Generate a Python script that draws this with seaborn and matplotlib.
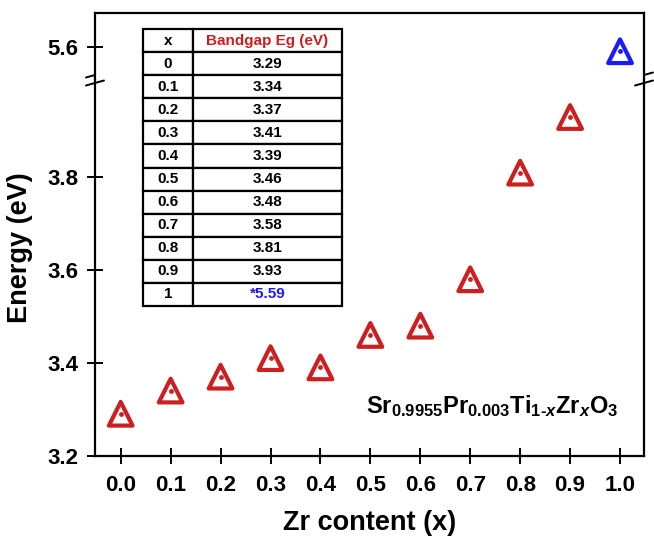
import numpy as np
import pandas as pd
import matplotlib
matplotlib.use("Agg")
import matplotlib.pyplot as plt
import seaborn as sns

zr_content = [0.0, 0.1, 0.2, 0.3, 0.4, 0.5, 0.6, 0.7, 0.8, 0.9, 1.0]
bandgap = [3.29, 3.34, 3.37, 3.41, 3.39, 3.46, 3.48, 3.58, 3.81, 3.93, 5.59]
table_x = ["0", "0.1", "0.2", "0.3", "0.4", "0.5", "0.6", "0.7", "0.8", "0.9", "1"]
table_eg = ["3.29", "3.34", "3.37", "3.41", "3.39", "3.46", "3.48", "3.58", "3.81", "3.93", "*5.59"]
x_ticks = [0.0, 0.1, 0.2, 0.3, 0.4, 0.5, 0.6, 0.7, 0.8, 0.9, 1.0]
y_ticks_low = [3.2, 3.4, 3.6, 3.8]
y_ticks_high = [5.6]

RED = "#cc1f1f"
BLUE = "#1a1aff"

sns.set_theme(style="ticks")
plt.rcParams["font.family"] = ["Liberation Sans", "DejaVu Sans"]
plt.rcParams["font.weight"] = "bold"
plt.rcParams["text.color"] = "black"
plt.rcParams["axes.labelcolor"] = "black"
plt.rcParams["mathtext.fontset"] = "custom"
plt.rcParams["mathtext.rm"] = "Liberation Sans"
plt.rcParams["mathtext.bf"] = "Liberation Sans:bold"
plt.rcParams["mathtext.it"] = "Liberation Sans:italic"
plt.rcParams["mathtext.bfit"] = "Liberation Sans:italic:bold"

df = pd.DataFrame({"x": zr_content, "eg": bandgap})
low = df[df["eg"] < 5]
high = df[df["eg"] >= 5]

fig = plt.figure(figsize=(6.54, 5.36), dpi=100)
W, H = 654, 536
left, right = 95, 644
y_axis, y_break, y_top = 455.5, 79, 13.3
ax_lo = fig.add_axes([left / W, 1 - y_axis / H, (right - left) / W, (y_axis - y_break) / H])
ax_hi = fig.add_axes([left / W, 1 - y_break / H, (right - left) / W, (y_break - y_top) / H])

# hollow triangles with a small dot inside
for ax, part, col in [(ax_lo, low, RED), (ax_hi, high, BLUE)]:
    sns.scatterplot(data=part, x="x", y="eg", ax=ax, marker="^", s=290,
                    facecolors="none", edgecolor=col, linewidth=3.0, zorder=3)
    sns.scatterplot(data=part, x="x", y="eg", ax=ax, marker="o", s=12,
                    color=col, linewidth=0, zorder=3)

ax_lo.set_xlim(-0.0515, 1.048)
ax_hi.set_xlim(-0.0515, 1.048)
ax_lo.set_ylim(3.2, 4.012)
ax_hi.set_ylim(5.530, 5.672)

for ax in (ax_lo, ax_hi):
    for s in ax.spines.values():
        s.set_linewidth(1.6)
        s.set_color("black")
    ax.tick_params(axis="both", direction="inout", length=12, width=1.4,
                   labelsize=16, colors="black", pad=6)
    ax.set_xlabel("")
    ax.set_ylabel("")

ax_lo.spines["top"].set_visible(False)
ax_hi.spines["bottom"].set_visible(False)
ax_hi.tick_params(axis="x", bottom=False, labelbottom=False)
ax_lo.set_xticks(x_ticks)
ax_lo.set_xticklabels([f"{v:.1f}" for v in x_ticks])
ax_lo.set_yticks(y_ticks_low)
ax_lo.set_yticklabels([f"{v:.1f}" for v in y_ticks_low])
ax_hi.set_yticks(y_ticks_high)
ax_hi.set_yticklabels([f"{v:.1f}" for v in y_ticks_high])
ax_lo.tick_params(axis="x", pad=8)

ax_lo.set_xlabel("Zr content (x)", fontsize=19.5, fontweight="bold", labelpad=10)
ax_lo.set_ylabel("Energy (eV)", fontsize=19.5, fontweight="bold")
ax_lo.yaxis.set_label_coords(-0.113, (y_axis - 248) / (y_axis - y_break))

# axis break marks (//) on both sides
ah = y_axis - y_break
aw = right - left
for xa in (0, 1):
    for dy in (-4, 4):
        ax_lo.plot([xa - 9 / aw, xa + 9 / aw],
                   [1 + (dy - 2.5) / ah, 1 + (dy + 2.5) / ah],
                   transform=ax_lo.transAxes, color="black", lw=1.4,
                   clip_on=False, zorder=5)

# composition label
ax_lo.text(0.9526, 0.113,
           r"$\mathbf{Sr_{0.9955}Pr_{0.003}Ti_{1\text{-}\mathbfit{x}}Zr_{\mathbfit{x}}O_{3}}$",
           transform=ax_lo.transAxes, ha="right", va="baseline", fontsize=17)

# inset table
tab_ax = fig.add_axes([143 / W, 1 - 306 / H, (342 - 143) / W, (306 - 29) / H])
tab_ax.axis("off")
tbl = tab_ax.table(cellText=[[a, b] for a, b in zip(table_x, table_eg)],
                   colLabels=["x", "Bandgap Eg (eV)"],
                   colWidths=[50 / 199, 149 / 199],
                   cellLoc="center", bbox=[0, 0, 1, 1])
tbl.auto_set_font_size(False)
for (r, c), cell in tbl.get_celld().items():
    cell.set_linewidth(1.6)
    cell.set_edgecolor("black")
    cell.get_text().set_fontsize(11)
    cell.get_text().set_fontweight("bold")
tbl[0, 1].get_text().set_color(RED)
tbl[len(table_x), 1].get_text().set_color(BLUE)

fig.savefig("out.png", dpi=100)
